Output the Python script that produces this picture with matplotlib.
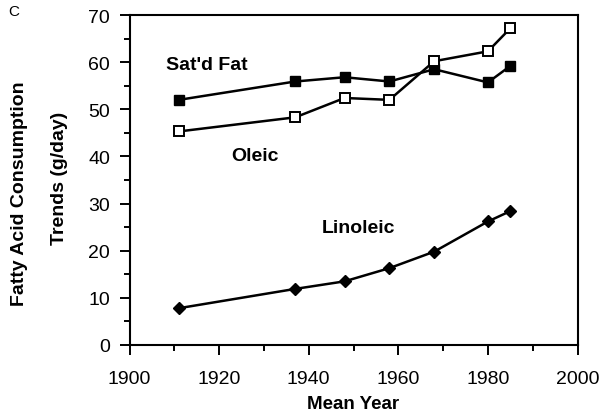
from matplotlib import pyplot as plt
from matplotlib.ticker import MultipleLocator

plt.rcParams["font.family"] = ["Liberation Sans", "DejaVu Sans"]

years = [1911, 1937, 1948, 1958, 1968, 1980, 1985]

# Fatty acid consumption trends (g/day)
satd_fat = [52.0, 55.9, 56.8, 55.9, 58.5, 55.7, 59.2]
oleic = [45.3, 48.3, 52.4, 52.0, 60.2, 62.3, 67.2]
linoleic = [7.8, 11.9, 13.5, 16.3, 19.8, 26.2, 28.4]

fig = plt.figure(figsize=(6.03, 4.14), dpi=100)
ax = fig.add_axes([0.2148, 0.1643, 0.743, 0.797])

ax.plot(years, satd_fat, color="k", linewidth=1.8, marker="s", markersize=7.5,
        markerfacecolor="k", markeredgecolor="k", zorder=3)
ax.plot(years, oleic, color="k", linewidth=1.8, marker="s", markersize=7.5,
        markerfacecolor="white", markeredgecolor="k", markeredgewidth=1.4, zorder=4)
ax.plot(years, linoleic, color="k", linewidth=1.8, marker="D", markersize=6.5,
        markerfacecolor="k", markeredgecolor="k")

ax.text(1917.3, 59.5, "Sat'd Fat", fontsize=14, fontweight="bold", ha="center", va="center")
ax.text(1927.9, 40.1, "Oleic", fontsize=14, fontweight="bold", ha="center", va="center")
ax.text(1951.2, 25.0, "Linoleic", fontsize=14, fontweight="bold", ha="center", va="center")

ax.set_xlim(1900, 2000)
ax.set_ylim(0, 70)
ax.xaxis.set_major_locator(MultipleLocator(20))
ax.xaxis.set_minor_locator(MultipleLocator(10))
ax.yaxis.set_major_locator(MultipleLocator(10))
ax.yaxis.set_minor_locator(MultipleLocator(5))
ax.tick_params(which="major", direction="out", length=7, width=1.4, labelsize=14)
ax.tick_params(axis="x", which="major", pad=11)
ax.tick_params(axis="y", which="major", pad=7)
ax.tick_params(which="minor", direction="out", length=4, width=1.4)
for s in ax.spines.values():
    s.set_linewidth(1.5)

ax.set_xlabel("Mean Year", fontsize=13.5, fontweight="bold", labelpad=6)

# two-line y label, each line placed on its own like the original
fig.text(0.033, 0.533, "Fatty Acid Consumption", fontsize=14, fontweight="bold",
         rotation=90, ha="center", va="center")
fig.text(0.0995, 0.570, "Trends (g/day)", fontsize=14, fontweight="bold",
         rotation=90, ha="center", va="center")

fig.text(0.013, 0.97, "C", fontsize=11, va="center")

fig.savefig("out.png", dpi=100)
